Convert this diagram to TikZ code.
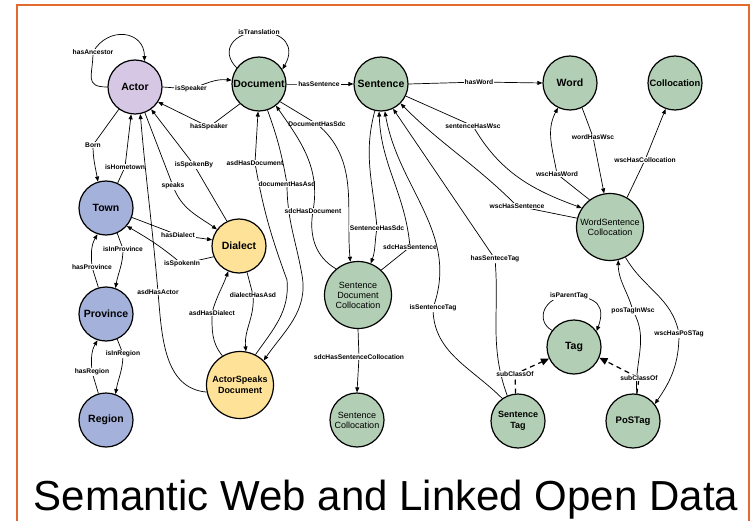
\documentclass[tikz,border=0pt]{standalone}
\usepackage{fontspec}
\setmainfont{Liberation Sans}
\usetikzlibrary{arrows.meta}

\definecolor{framecol}{RGB}{226,106,46}
\definecolor{actorfill}{RGB}{214,200,228}
\definecolor{placefill}{RGB}{164,178,219}
\definecolor{speechfill}{RGB}{254,226,152}
\definecolor{textfill}{RGB}{178,206,180}

\begin{document}
\begin{tikzpicture}[
    x=1pt, y=1pt,
    concept/.style={circle, draw, line width=1.2pt, minimum size=54pt, inner sep=0pt, align=center, font=\fontsize{10.5}{12}\selectfont\bfseries},
    actornode/.style={concept, fill=actorfill},
    placenode/.style={concept, fill=placefill},
    speechnode/.style={concept, fill=speechfill},
    textnode/.style={concept, fill=textfill},
    bignode/.style={minimum size=67pt},
    twoline/.style={font=\fontsize{9}{10}\selectfont},
    twolinebold/.style={font=\fontsize{9}{10.5}\selectfont\bfseries},
    arrow/.style={-{Triangle[length=5pt,width=4pt]}, line width=0.7pt},
    subclass/.style={-{Triangle[length=8pt,width=7pt]}, line width=1.2pt, dash pattern=on 5pt off 4pt},
    edgelabel/.style={fill=white, inner sep=1pt, font=\fontsize{6.7}{7.5}\selectfont\bfseries}
]
\useasboundingbox (0,0) rectangle (751,-521);

% frame
\draw[framecol, line width=2.5pt] (17,-521) -- (17,-5) -- (749,-5) -- (749,-521);

% Actor, places and dialects
\node[actornode] (actor) at (135,-87) {Actor};
\node[placenode] (town) at (106,-208) {Town};
\node[placenode] (province) at (106,-314) {Province};
\node[placenode] (region) at (106,-420) {Region};
\node[speechnode] (dialect) at (239,-246) {Dialect};
\node[speechnode, bignode, twolinebold] (asd) at (240,-385) {ActorSpeaks\\Document};

% Documents and sentences
\node[textnode] (document) at (259,-84) {Document};
\node[textnode] (sentence) at (381,-84) {Sentence};
\node[textnode] (word) at (570,-83) {Word};
\node[textnode, font=\fontsize{9.3}{10}\selectfont\bfseries] (collocation) at (675,-83) {Collocation};
\node[textnode, bignode, twoline] (sdc) at (358,-295) {Sentence\\Document\\Collocation};
\node[textnode, twoline] (sentcoll) at (357,-420) {Sentence\\Collocation};
\node[textnode, bignode, twoline] (wsc) at (610,-227) {WordSentence\\Collocation};

% Tags
\node[textnode] (tag) at (574,-347) {Tag};
\node[textnode, twolinebold] (senttag) at (518,-421) {Sentence\\Tag};
\node[textnode, font=\fontsize{9.5}{11}\selectfont\bfseries] (postag) at (633,-421) {PoSTag};

% Actor edges
\draw[arrow] (actor.180) to[out=180,in=-90,looseness=1.6] (93,-52) node[edgelabel] {hasAncestor} to[out=60,in=90,looseness=1.5] (actor.70);
\draw[arrow] (actor.0) -- (191,-89) node[edgelabel] {isSpeaker} to[out=20,in=175] (document.172);
\draw[arrow] (document.226) -- (209,-127) node[edgelabel] {hasSpeaker} -- (actor.-33);
\draw[arrow] (actor.234) -- (93,-145) node[edgelabel] {Born} to[out=-90,in=100] (town.107);
\draw[arrow] (town.65) -- (125,-167) node[edgelabel] {isHometown} -- (actor.-98);
\draw[arrow] (actor.-69) -- (173,-186) node[edgelabel] {speaks} to[out=-70,in=145] (dialect.143);
\draw[arrow] (dialect.116) -- (194,-165) node[edgelabel] {isSpokenBy} -- (actor.-54);
\draw[arrow] (asd.192) to[out=175,in=-85] (158,-292) node[edgelabel] {asdHasActor} to[out=95,in=-85] (actor.-79);

% Place edges
\draw[arrow] (town.-20) -- (178,-235) node[edgelabel] {hasDialect} -- (dialect.167);
\draw[arrow] (dialect.203) -- (182,-264) node[edgelabel] {isSpokenIn} to[out=140,in=-30] (town.-41);
\draw[arrow] (town.-66) -- (123,-249) node[edgelabel] {isInProvince} to[out=-90,in=80] (province.70);
\draw[arrow] (province.106) -- (92,-267) node[edgelabel] {hasProvince} to[out=95,in=-120] (town.-108);
\draw[arrow] (province.-66) -- (123,-354) node[edgelabel] {isInRegion} to[out=-90,in=80] (region.70);
\draw[arrow] (region.106) -- (92,-372) node[edgelabel] {hasRegion} to[out=95,in=-120] (province.-108);

% Dialect and ActorSpeaks Document
\draw[arrow] (asd.121) to[out=130,in=-90] (212,-313) node[edgelabel] {asdHasDialect} to[out=75,in=-110] (dialect.-113);
\draw[arrow] (dialect.-73) -- (253,-295) node[edgelabel] {dialectHasAsd} to[out=-85,in=95] (asd.80);
\draw[arrow] (asd.63) to[out=55,in=-85] (287,-280) to[out=110,in=-80] (255,-163) node[edgelabel] {asdHasDocument} -- (document.-92);
\draw[arrow] (document.-72) to[out=-70,in=100] (287,-184) node[edgelabel] {documentHasAsd} to[out=-90,in=100] (302,-275) to[out=-80,in=55] (asd.46);

% Document edges
\draw[arrow] (document.144) to[out=135,in=180,looseness=1.5] (259,-32) node[edgelabel] {isTranslation} to[out=0,in=60,looseness=1.5] (document.32);
\draw[arrow] (document.0) -- (319,-84) node[edgelabel] {hasSentence} -- (sentence.180);
\draw[arrow] (document.-40) -- (317,-124) node[edgelabel] {DocumentHasSdc} to[out=-40,in=95] (sdc.103);
\draw[arrow] (sdc.130) to[out=150,in=-100] (313,-211) node[edgelabel] {sdcHasDocument} to[out=80,in=-55] (document.-52);

% Sentence edges
\draw[arrow] (sentence.0) -- (479,-82) node[edgelabel] {hasWord} -- (word.180);
\draw[arrow] (sentence.257) to[out=255,in=95] (377,-228) node[edgelabel] {SentenceHasSdc} to[out=-100,in=70] (sdc.68);
\draw[arrow] (sdc.47) -- (410,-247) node[edgelabel] {sdcHasSentence} to[out=95,in=-88] (sentence.266);
\draw[arrow] (sdc.-90) -- (359,-357) node[edgelabel] {sdcHasSentenceCollocation} -- (sentcoll.90);
\draw[arrow] (senttag.125) to[out=135,in=-90] (433,-308) node[edgelabel] {isSentenceTag} to[out=70,in=-80] (sentence.-82);
\draw[arrow] (senttag.113) to[out=110,in=-85] (495,-259) node[edgelabel] {hasSenteceTag} -- (sentence.-64);
\draw[arrow] (sentence.-26) -- (473,-126) node[edgelabel] {sentenceHasWsc} to[out=-60,in=160] (wsc.146);
\draw[arrow] (wsc.165) -- (517,-206) node[edgelabel] {wscHasSentence} to[out=135,in=-45] (sentence.-45);

% WordSentence Collocation edges
\draw[arrow] (wsc.127) -- (557,-174) node[edgelabel] {wscHasWord} to[out=100,in=-118] (word.244);
\draw[arrow] (word.-64) -- (593,-137) node[edgelabel] {wordHasWsc} -- (wsc.100);
\draw[arrow] (wsc.60) -- (645,-160) node[edgelabel] {wscHasCollocation} -- (collocation.250);
\draw[arrow] (postag.82) to[out=95,in=-60] (633,-311) node[edgelabel] {posTagInWsc} to[out=105,in=-90] (wsc.-76);
\draw[arrow] (wsc.-63) to[out=-60,in=100] (679,-334) node[edgelabel] {wscHasPoSTag} to[out=-90,in=55] (postag.38);

% Tag edges
\draw[arrow] (tag.143) .. controls +(150:20) and +(180:25) .. (569,-296) node[edgelabel] {isParentTag} .. controls +(0:30) and +(70:25) .. (tag.35);
\draw[subclass] (senttag.95) -- (515,-374) node[edgelabel] {subClassOf} -- (tag.205);
\draw[subclass] (postag.82) -- (639,-378) node[edgelabel] {subClassOf} -- (tag.-23);

% Title
\node[font=\fontsize{42}{48}\selectfont, anchor=base] (title) at (386,-510) {Semantic Web and Linked Open Data};
\end{tikzpicture}
\end{document}
